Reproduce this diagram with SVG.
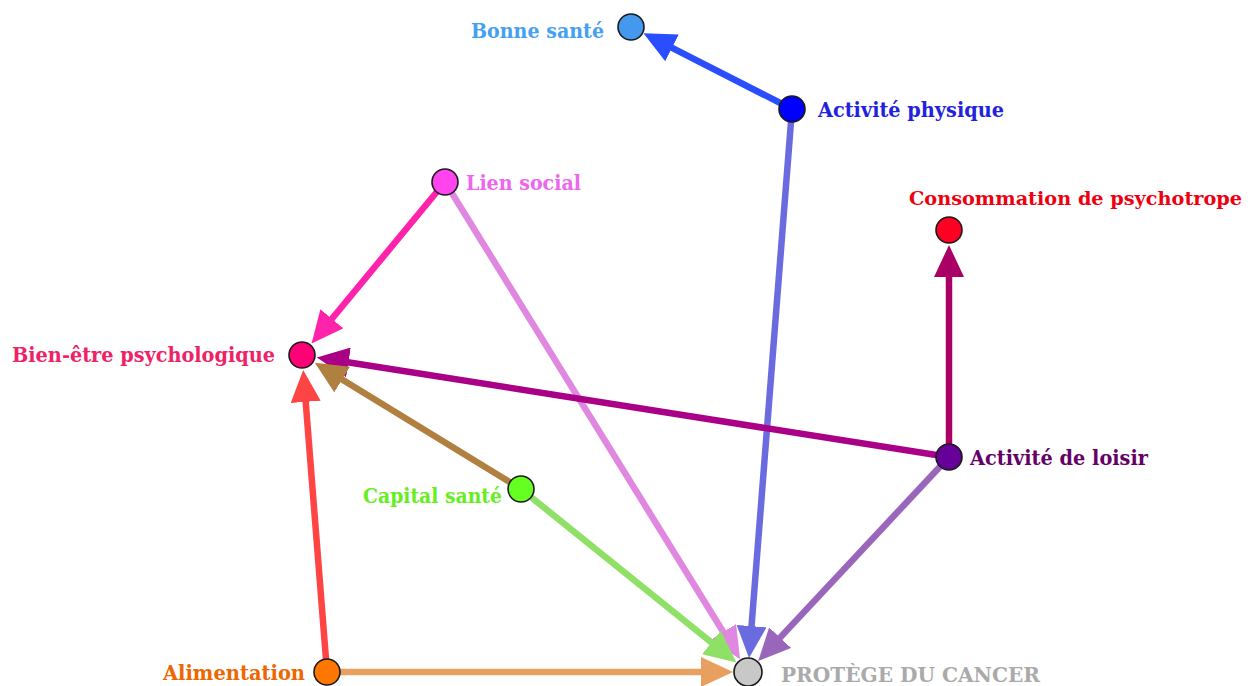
<svg xmlns="http://www.w3.org/2000/svg" width="1250" height="686" viewBox="0 0 1250 686">
<style>
text{font-family:"DejaVu Serif","Liberation Serif",serif;font-weight:bold;font-size:21px}
.n{stroke:#1a1a1a;stroke-width:1.6}
.e{stroke-width:6.5;fill:none}
</style>
<defs>
<marker id="m1" markerUnits="userSpaceOnUse" viewBox="0 0 32 30" refX="12" refY="15" markerWidth="32" markerHeight="30" orient="auto"><path d="M0,0L32,15L0,30z" fill="#2a4dff"/></marker>
<marker id="m2" markerUnits="userSpaceOnUse" viewBox="0 0 32 30" refX="12" refY="15" markerWidth="32" markerHeight="30" orient="auto"><path d="M0,0L32,15L0,30z" fill="#6b6be0"/></marker>
<marker id="m3" markerUnits="userSpaceOnUse" viewBox="0 0 32 30" refX="12" refY="15" markerWidth="32" markerHeight="30" orient="auto"><path d="M0,0L32,15L0,30z" fill="#ff22aa"/></marker>
<marker id="m4" markerUnits="userSpaceOnUse" viewBox="0 0 32 30" refX="12" refY="15" markerWidth="32" markerHeight="30" orient="auto"><path d="M0,0L32,15L0,30z" fill="#e088e0"/></marker>
<marker id="m5" markerUnits="userSpaceOnUse" viewBox="0 0 32 30" refX="12" refY="15" markerWidth="32" markerHeight="30" orient="auto"><path d="M0,0L32,15L0,30z" fill="#aa0066"/></marker>
<marker id="m6" markerUnits="userSpaceOnUse" viewBox="0 0 32 30" refX="12" refY="15" markerWidth="32" markerHeight="30" orient="auto"><path d="M0,0L32,15L0,30z" fill="#aa0088"/></marker>
<marker id="m7" markerUnits="userSpaceOnUse" viewBox="0 0 32 30" refX="12" refY="15" markerWidth="32" markerHeight="30" orient="auto"><path d="M0,0L32,15L0,30z" fill="#9966bb"/></marker>
<marker id="m8" markerUnits="userSpaceOnUse" viewBox="0 0 32 30" refX="12" refY="15" markerWidth="32" markerHeight="30" orient="auto"><path d="M0,0L32,15L0,30z" fill="#b08040"/></marker>
<marker id="m9" markerUnits="userSpaceOnUse" viewBox="0 0 32 30" refX="12" refY="15" markerWidth="32" markerHeight="30" orient="auto"><path d="M0,0L32,15L0,30z" fill="#8ee066"/></marker>
<marker id="m10" markerUnits="userSpaceOnUse" viewBox="0 0 32 30" refX="12" refY="15" markerWidth="32" markerHeight="30" orient="auto"><path d="M0,0L32,15L0,30z" fill="#ff4444"/></marker>
<marker id="m11" markerUnits="userSpaceOnUse" viewBox="0 0 32 30" refX="12" refY="15" markerWidth="32" markerHeight="30" orient="auto"><path d="M0,0L32,15L0,30z" fill="#e8a060"/></marker>
</defs>
<rect width="1250" height="686" fill="#ffffff"/>
<g id="connectors">
<line class="e" x1="792" y1="109" x2="661.3" y2="42.4" stroke="#2a4dff" marker-end="url(#m1)"/>
<line class="e" x1="792" y1="109" x2="750.6" y2="638.1" stroke="#6b6be0" marker-end="url(#m2)"/>
<line class="e" x1="445" y1="182" x2="324.3" y2="328" stroke="#ff22aa" marker-end="url(#m3)"/>
<line class="e" x1="445" y1="182" x2="729.6" y2="642.2" stroke="#e088e0" marker-end="url(#m4)"/>
<line class="e" x1="949" y1="457" x2="949" y2="265" stroke="#aa0066" marker-end="url(#m5)"/>
<line class="e" x1="949" y1="457" x2="336.6" y2="360.5" stroke="#aa0088" marker-end="url(#m6)"/>
<line class="e" x1="949" y1="457" x2="771.9" y2="646.4" stroke="#9966bb" marker-end="url(#m7)"/>
<line class="e" x1="521" y1="489" x2="331.9" y2="373.3" stroke="#b08040" marker-end="url(#m8)"/>
<line class="e" x1="521" y1="489" x2="720.8" y2="650" stroke="#8ee066" marker-end="url(#m9)"/>
<line class="e" x1="327" y1="672" x2="304.75" y2="389.9" stroke="#ff4444" marker-end="url(#m10)"/>
<line class="e" x1="327" y1="672" x2="713" y2="672" stroke="#e8a060" marker-end="url(#m11)"/>
</g>
<g id="bonne-sante"><circle class="n" cx="631" cy="27" r="13" fill="#4499ee"/><text x="471" y="38" textLength="133" lengthAdjust="spacingAndGlyphs" fill="#44a0f0">Bonne santé</text></g>
<g id="activite-physique"><circle class="n" cx="792" cy="109" r="13" fill="#0000ff"/><text x="818" y="117" textLength="186" lengthAdjust="spacingAndGlyphs" fill="#2222dd">Activité physique</text></g>
<g id="lien-social"><circle class="n" cx="445" cy="182" r="13" fill="#ff44ee"/><text x="466" y="190" textLength="115" lengthAdjust="spacingAndGlyphs" fill="#ee66ee">Lien social</text></g>
<g id="consommation"><circle class="n" cx="949" cy="230" r="13" fill="#ff0022"/><text x="909" y="205" font-size="19" textLength="333" lengthAdjust="spacingAndGlyphs" style="font-size:19px" fill="#ee0011">Consommation de psychotrope</text></g>
<g id="bien-etre"><circle class="n" cx="302" cy="355" r="13" fill="#ff0077"/><text x="12" y="362" textLength="263" lengthAdjust="spacingAndGlyphs" fill="#ee2266">Bien-être psychologique</text></g>
<g id="activite-loisir"><circle class="n" cx="949" cy="457" r="13" fill="#660099"/><text x="970" y="465" textLength="178" lengthAdjust="spacingAndGlyphs" fill="#660066">Activité de loisir</text></g>
<g id="capital-sante"><circle class="n" cx="521" cy="489" r="13" fill="#66ff22"/><text x="363" y="503" textLength="139" lengthAdjust="spacingAndGlyphs" fill="#66ee22">Capital santé</text></g>
<g id="alimentation"><circle class="n" cx="327" cy="672" r="13" fill="#ff7700"/><text x="163" y="680" textLength="142" lengthAdjust="spacingAndGlyphs" fill="#ee6600">Alimentation</text></g>
<g id="protege"><circle class="n" cx="748" cy="672" r="14" fill="#c8c8c8"/><text x="781" y="682" textLength="259" lengthAdjust="spacingAndGlyphs" fill="#aaaaaa">PROTÈGE DU CANCER</text></g>
</svg>
